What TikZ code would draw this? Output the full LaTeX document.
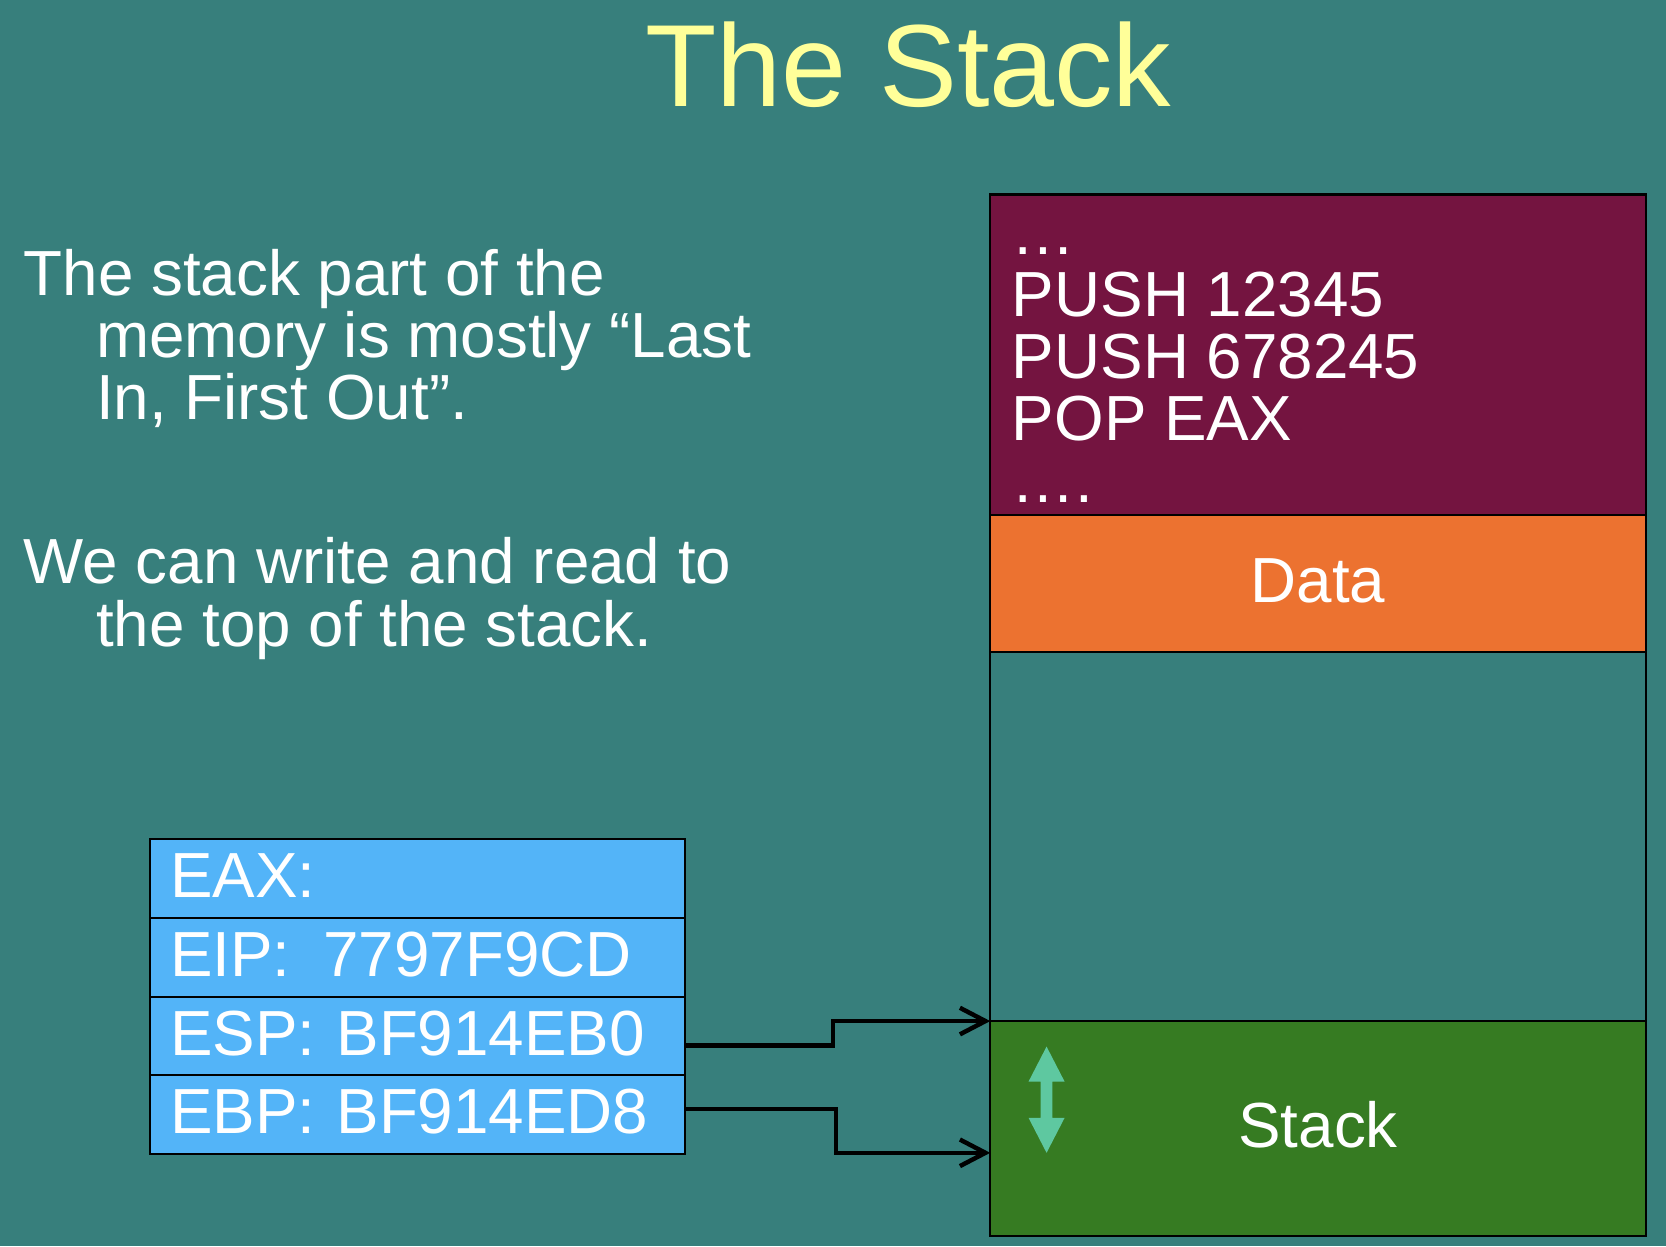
\documentclass[tikz,border=0pt]{standalone}
\usepackage{fontspec}
\setmainfont{Liberation Sans}
\usetikzlibrary{positioning,arrows.meta}

\definecolor{slideteal}{HTML}{377F7C}
\definecolor{titleyellow}{HTML}{FFFF99}
\definecolor{codered}{HTML}{741440}
\definecolor{dataorange}{HTML}{EC7230}
\definecolor{stackgreen}{HTML}{367B22}
\definecolor{regblue}{HTML}{53B4F8}
\definecolor{growgreen}{HTML}{5EC8A0}

\newcommand{\slidefont}{\fontsize{30}{29.2}\selectfont}

\tikzset{
  txt/.style={text=white,font=\slidefont,inner sep=0pt,align=left},
  seg/.style={draw=black,line width=1pt,minimum width=308.5pt,
    outer sep=0pt,inner sep=0pt,text=white,font=\slidefont,
    text height=21pt,text depth=3pt},
  reg/.style={draw=black,line width=1pt,fill=regblue,text=white,
    font=\slidefont,outer sep=0pt,inner xsep=9.5pt,inner ysep=0pt,
    text width=233pt,align=left,minimum height=37pt,
    text height=21pt,text depth=3pt},
  ptr/.style={line width=2.1pt,-{Straight Barb[length=12pt,width=12.5pt]}}
}

\begin{document}
\begin{tikzpicture}[x=0.5pt,y=-0.5pt]
    \fill [slideteal] (0,0) rectangle (1568,1173);
    \useasboundingbox (0,0) rectangle (1568,1173);

    \node [anchor=base,inner sep=0pt,text=titleyellow,
    font=\fontsize{55}{60}\selectfont] (title) at (855,100) {The Stack};

    % last line sits on the anchor
    \node [txt,anchor=base west] (lifo) at (22,395)
    {The stack part of the\\
     \hspace*{34pt}memory is mostly “Last\\
     \hspace*{34pt}In, First Out”.};

    \node [txt,anchor=base west] (topnote) at (22,608)
    {We can write and read to\\
     \hspace*{34pt}the top of the stack.};

    % memory column
    \node [seg,fill=codered,minimum height=151pt,anchor=north west]
    (code) at (932,183) {};
    \node [seg,fill=dataorange,minimum height=64.5pt,below=0pt of code]
    (data) {Data};
    \node [seg,minimum height=173.5pt,below=0pt of data] (free) {};
    \node [seg,fill=stackgreen,minimum height=101pt,below=0pt of free]
    (stack) {Stack};

    \node [txt,anchor=base west] (ops) at (952,473)
    {…\\PUSH 12345\\PUSH 678245\\POP EAX\\….};

    \fill [growgreen] (985,985) -- ++(17,33) -- ++(-11.5,0) -- ++(0,34)
    -- ++(11.5,0) -- ++(-17,33) -- ++(-17,-33) -- ++(11.5,0)
    -- ++(0,-34) -- ++(-11.5,0) -- cycle;

    % registers
    \node [reg,anchor=north west] (eax) at (141,790) {EAX:};
    \node [reg,below=0pt of eax] (eip) {EIP:~\hspace*{5.5pt}7797F9CD};
    \node [reg,below=0pt of eip] (esp) {ESP: BF914EB0};
    \node [reg,below=0pt of esp] (ebp) {EBP: BF914ED8};

    \draw [ptr] ([yshift=-4.5pt]esp.east) -- ++(139,0) |- (stack.north west);
    \draw [ptr] ([yshift=2.5pt]ebp.east) -- ++(142,0)
    |- ([yshift=-11.5pt]stack.west);
\end{tikzpicture}
\end{document}
